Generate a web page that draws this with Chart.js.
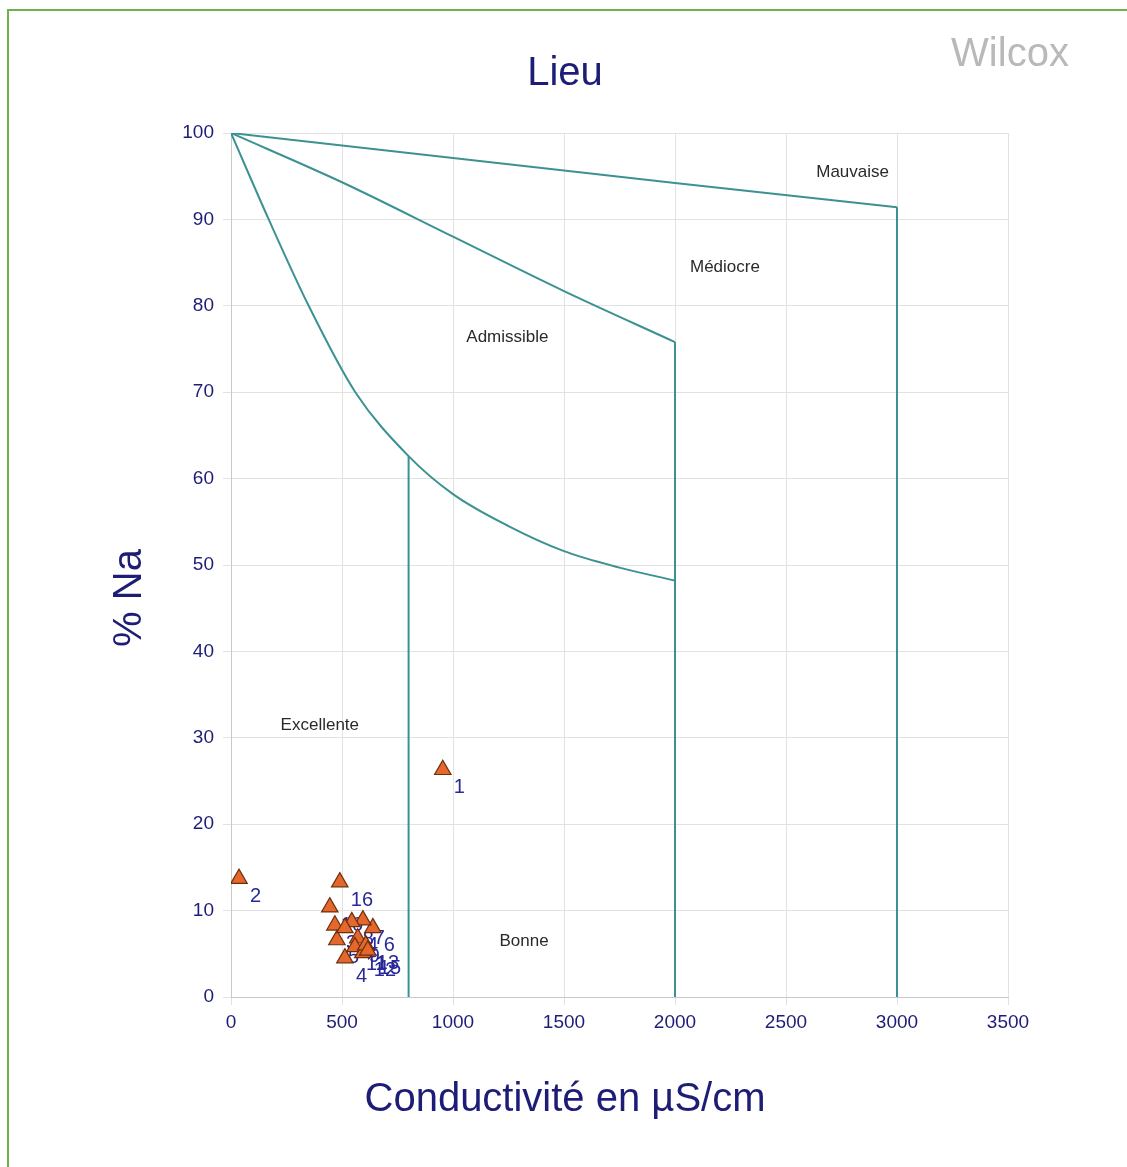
<!DOCTYPE html>
<html>
<head>
<meta charset="utf-8">
<title>Wilcox</title>
<script src="https://cdn.jsdelivr.net/npm/chart.js@4.4.0/dist/chart.umd.min.js"></script>
<style>
  html, body { margin: 0; padding: 0; background: #fff; overflow: hidden; }
  #frame { position: absolute; left: 7px; top: 9px; width: 1200px; height: 1200px;
           border: 2px solid #72b04e; box-sizing: border-box; pointer-events: none; }
  #wrap { position: absolute; left: 0; top: 0; width: 1127px; height: 1167px; }
</style>
</head>
<body>
<div id="wrap"><canvas id="c" width="1127" height="1167"></canvas></div>
<div id="frame"></div>
<script>
// Samples: conductivity (µS/cm) and sodium percentage
const sampleIds   = ['1', '2', '3', '4', '5', '6', '7', '8', '9', '10', '11', '12', '13', '14', '15', '16'];
const conductivity = [954, 36, 468, 513, 477, 639, 594, 544, 571, 445, 558, 594, 607, 513, 616, 490];
const sodiumPct    = [26.3, 13.7, 8.3, 4.5, 6.6, 8.0, 8.9, 8.7, 6.8, 10.4, 5.8, 5.1, 6.0, 8.0, 5.4, 13.3];

// Wilcox class boundaries
const excellentCurveX = [0, 170, 350, 560, 800, 1000, 1250, 1500, 1750, 2000];
const excellentCurveY = [100, 90, 80, 70, 62.6, 58.2, 54.5, 51.6, 49.7, 48.2];
const admissibleCurveX = [0, 500, 1000, 1500, 2000];
const admissibleCurveY = [100, 94.3, 88.0, 81.7, 75.8];
const mediocreCurveX = [0, 1000, 2000, 3000];
const mediocreCurveY = [100, 97.1, 94.2, 91.4];
const limit800Y  = [0, 62.6];
const limit2000Y = [0, 75.8];
const limit3000Y = [0, 91.4];

// Class names and where they sit on the diagram
const zoneNames = ['Mauvaise', 'Médiocre', 'Admissible', 'Excellente', 'Bonne'];
const zoneX     = [2800, 2225, 1245, 400, 1320];
const zoneY     = [95.5, 84.4, 76.4, 31.5, 6.5];

const xTicks = [0, 500, 1000, 1500, 2000, 2500, 3000, 3500];
const yTicks = [0, 10, 20, 30, 40, 50, 60, 70, 80, 90, 100];

const FONT = '"Liberation Sans", Arial, sans-serif';
const NAVY = '#1d1d78';
const LINE = '#3c9292';

const zip = (xs, ys) => xs.map((x, i) => ({ x: x, y: ys[i] }));

const boundary = (data, smooth) => ({
  type: 'scatter', data: data, showLine: true, borderColor: LINE, borderWidth: 2,
  pointRadius: 0, pointHoverRadius: 0, fill: false,
  tension: smooth ? 0.4 : 0,
  cubicInterpolationMode: smooth ? 'monotone' : 'default'
});

const datasets = [
  boundary(zip(excellentCurveX, excellentCurveY), true),
  boundary(zip(admissibleCurveX, admissibleCurveY), true),
  boundary(zip(mediocreCurveX, mediocreCurveY)),
  boundary(zip([800, 800], limit800Y)),
  boundary(zip([2000, 2000], limit2000Y)),
  boundary(zip([3000, 3000], limit3000Y)),
  {
    type: 'scatter',
    data: zip(conductivity, sodiumPct),
    pointStyle: 'triangle', pointRadius: 9.5, pointHoverRadius: 9.5,
    backgroundColor: '#e4682c', borderColor: '#6e2e0c', borderWidth: 1.2
  }
];

// Sample numbers, drawn under the markers
const sampleLabels = {
  id: 'sampleLabels',
  beforeDatasetsDraw(chart) {
    const { ctx, scales: { x, y } } = chart;
    ctx.save();
    ctx.font = '20px ' + FONT;
    ctx.fillStyle = '#28289a';
    ctx.textAlign = 'left';
    ctx.textBaseline = 'middle';
    sampleIds.forEach((id, i) => {
      ctx.fillText(id, x.getPixelForValue(conductivity[i]) + 11, y.getPixelForValue(sodiumPct[i]) + 18);
    });
    ctx.restore();
  }
};

// Class names, titles and diagram name
const annotations = {
  id: 'annotations',
  afterDraw(chart) {
    const { ctx, scales: { x, y } } = chart;
    ctx.save();
    ctx.textAlign = 'center';
    ctx.textBaseline = 'middle';
    ctx.font = '17px ' + FONT;
    ctx.fillStyle = '#2a2a2a';
    zoneNames.forEach((name, i) => {
      ctx.fillText(name, x.getPixelForValue(zoneX[i]), y.getPixelForValue(zoneY[i]));
    });
    ctx.font = '40px ' + FONT;
    ctx.fillStyle = NAVY;
    ctx.fillText('Lieu', 565, 74);
    ctx.fillText('Conductivité en µS/cm', 565, 1100);
    ctx.save();
    ctx.translate(130, 598);
    ctx.rotate(-Math.PI / 2);
    ctx.fillText('% Na', 0, 0);
    ctx.restore();
    ctx.fillStyle = '#b9b9b9';
    ctx.fillText('Wilcox', 1010, 55);
    ctx.restore();
  }
};

new Chart(document.getElementById('c'), {
  type: 'scatter',
  data: { datasets: datasets },
  options: {
    responsive: false,
    devicePixelRatio: 1,
    animation: false,
    layout: { padding: { top: 133, right: 119, bottom: 0, left: 0 } },
    plugins: { legend: { display: false }, tooltip: { enabled: false }, title: { display: false } },
    scales: {
      x: {
        type: 'linear', min: 0, max: 3500,
        afterBuildTicks: s => { s.ticks = xTicks.map(v => ({ value: v })); },
        afterFit: s => { s.height = 170; },
        grid: { color: '#e2e2e2', lineWidth: 1, tickLength: 8, drawTicks: true },
        border: { color: '#c8c8c8' },
        ticks: { color: NAVY, font: { family: FONT, size: 19 }, padding: 6, maxRotation: 0,
                 callback: v => String(v) },
        title: { display: false }
      },
      y: {
        type: 'linear', min: 0, max: 100,
        afterBuildTicks: s => { s.ticks = yTicks.map(v => ({ value: v })); },
        afterFit: s => { s.width = 231; },
        grid: { color: '#e2e2e2', lineWidth: 1, tickLength: 8, drawTicks: true },
        border: { color: '#c8c8c8' },
        ticks: { color: NAVY, font: { family: FONT, size: 19 }, padding: 9,
                 callback: v => String(v) },
        title: { display: false }
      }
    }
  },
  plugins: [sampleLabels, annotations]
});
</script>
</body>
</html>
